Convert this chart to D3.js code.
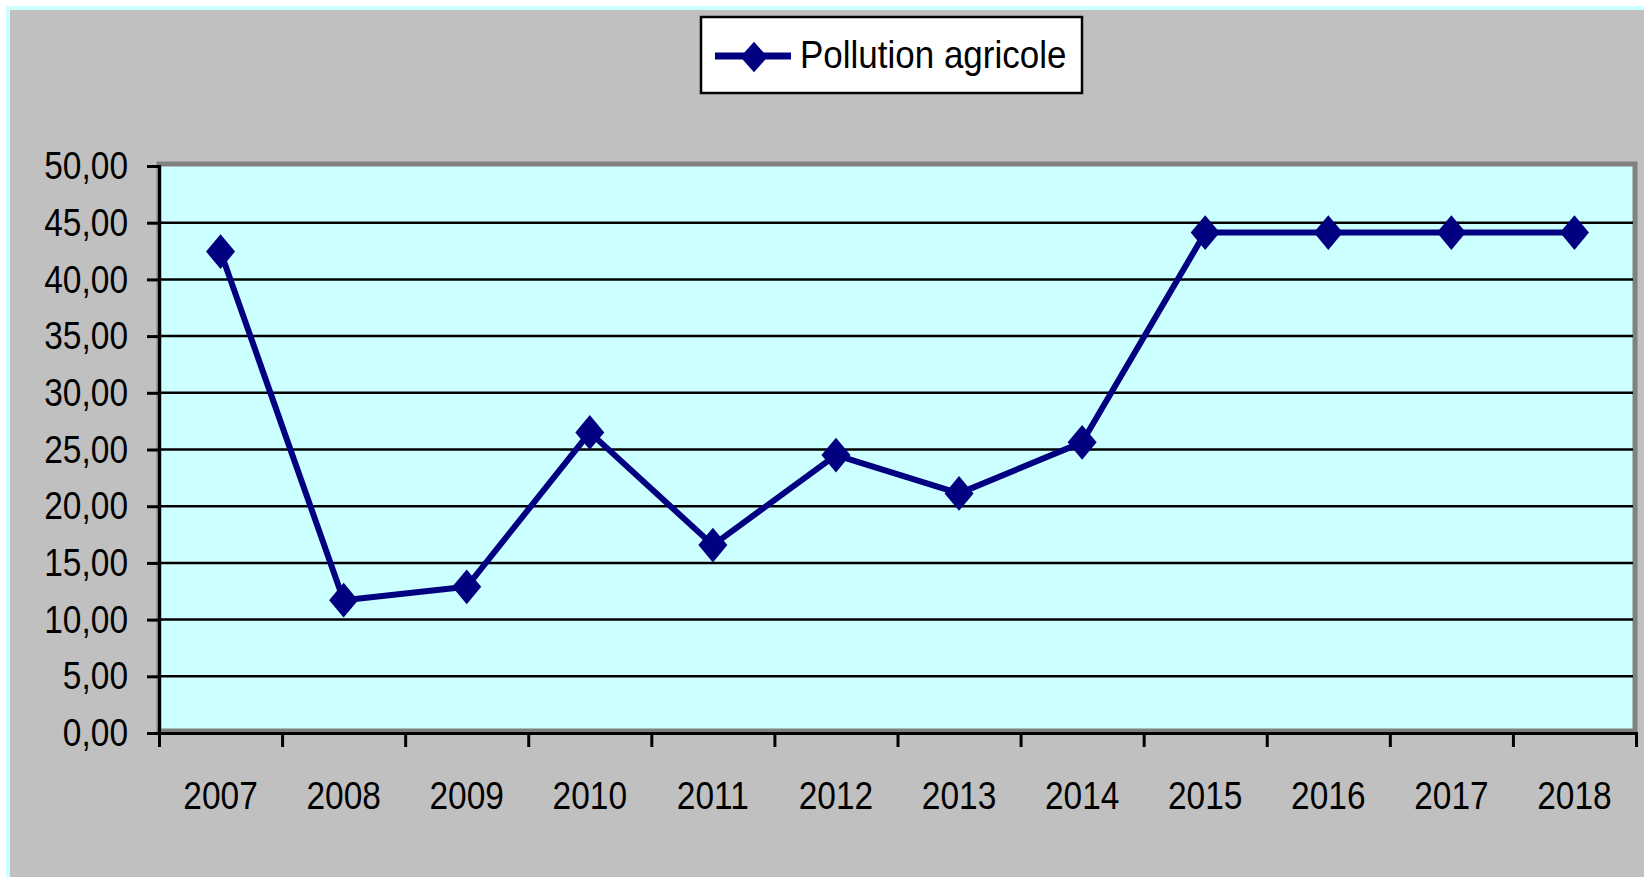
<!DOCTYPE html>
<html>
<head>
<meta charset="utf-8">
<script src="https://cdn.jsdelivr.net/npm/d3@7"></script>
<style>
  html, body { margin: 0; padding: 0; background: #fff; }
  svg { display: block; }
</style>
</head>
<body>
<svg id="chart" width="1644" height="877"></svg>
<script>
const years = ['2007', '2008', '2009', '2010', '2011', '2012', '2013', '2014', '2015', '2016', '2017', '2018'];
const pollutionAgricole = [42.45, 11.71, 12.89, 26.51, 16.57, 24.51, 21.13, 25.63, 44.13, 44.13, 44.13, 44.13];
const seriesName = 'Pollution agricole';
const yTicks = [0, 5, 10, 15, 20, 25, 30, 35, 40, 45, 50];

const W = 1644, H = 877;
const plot = { left: 159, top: 166, right: 1636, bottom: 733 };
const navy = '#000080';
const font = '"Liberation Sans", Arial, sans-serif';
const textStretch = 1.18;

const svg = d3.select('#chart');

// outer frame
svg.append('rect').attr('x', 6).attr('y', 6).attr('width', W).attr('height', H).attr('fill', '#ccffff');
svg.append('rect').attr('x', 10).attr('y', 10).attr('width', W).attr('height', H).attr('fill', '#c0c0c0');

const x = d3.scaleBand().domain(years).range([plot.left, plot.right]);
const xEdges = d3.scaleLinear().domain([0, years.length]).range([plot.left, plot.right]);
const y = d3.scaleLinear().domain([0, 50]).range([plot.bottom, plot.top]);

const frLocale = d3.formatLocale({ decimal: ',', thousands: ' ', grouping: [3], currency: ['', ' €'] });
const fmt = frLocale.format('.2f');

// plot area
svg.append('rect')
  .attr('x', plot.left)
  .attr('y', plot.top - 2)
  .attr('width', plot.right - plot.left - 1)
  .attr('height', plot.bottom - plot.top)
  .attr('fill', '#ccffff')
  .attr('stroke', '#808080')
  .attr('stroke-width', 5);

// gridlines
svg.append('g')
  .selectAll('line')
  .data(yTicks.filter(d => d > 0 && d < 50))
  .join('line')
  .attr('x1', plot.left)
  .attr('x2', plot.right - 3)
  .attr('y1', d => y(d))
  .attr('y2', d => y(d))
  .attr('stroke', '#000')
  .attr('stroke-width', 2.5);

// y axis
const yAxis = svg.append('g')
  .attr('transform', `translate(${plot.left},0)`)
  .call(d3.axisLeft(y).tickValues(yTicks).tickFormat(fmt).tickSize(12).tickPadding(19));
yAxis.select('.domain').attr('stroke', '#000').attr('stroke-width', 3);
yAxis.selectAll('.tick line').attr('stroke', '#000').attr('stroke-width', 3);
yAxis.selectAll('text')
  .attr('fill', '#000')
  .style('font-family', font)
  .style('font-size', '33.5px')
  .attr('transform', `scale(1,${textStretch})`);

// x axis: tick marks between categories
const xTicks = svg.append('g')
  .attr('transform', `translate(0,${plot.bottom})`)
  .call(d3.axisBottom(xEdges).ticks(years.length).tickFormat('').tickSize(14));
xTicks.select('.domain').attr('stroke', '#000').attr('stroke-width', 3);
xTicks.selectAll('.tick line').attr('stroke', '#000').attr('stroke-width', 3);

// x axis: labels centered on categories
const xLabels = svg.append('g')
  .attr('transform', `translate(0,${plot.bottom})`)
  .call(d3.axisBottom(x).tickSize(0));
xLabels.select('.domain').remove();
xLabels.selectAll('text')
  .attr('fill', '#000')
  .attr('y', 76 / textStretch)
  .attr('dy', 0)
  .style('font-family', font)
  .style('font-size', '33.5px')
  .attr('transform', `scale(1,${textStretch})`);

// series line
const pts = years.map((yr, i) => ({ year: yr, value: pollutionAgricole[i] }));
const line = d3.line()
  .x(d => x(d.year) + x.bandwidth() / 2)
  .y(d => y(d.value));
svg.append('path')
  .datum(pts)
  .attr('d', line)
  .attr('fill', 'none')
  .attr('stroke', navy)
  .attr('stroke-width', 6)
  .attr('stroke-linejoin', 'round');

// diamond markers
const diamond = d3.symbol().type(d3.symbolSquare).size(420);
svg.append('g')
  .selectAll('path')
  .data(pts)
  .join('path')
  .attr('d', diamond)
  .attr('fill', navy)
  .attr('transform', d => `translate(${x(d.year) + x.bandwidth() / 2},${y(d.value)}) scale(1,1.2) rotate(45)`);

// legend
const legend = svg.append('g');
legend.append('rect')
  .attr('x', 701)
  .attr('y', 17)
  .attr('width', 381)
  .attr('height', 76)
  .attr('fill', '#fff')
  .attr('stroke', '#000')
  .attr('stroke-width', 2.5);
legend.append('line')
  .attr('x1', 715)
  .attr('x2', 791)
  .attr('y1', 56)
  .attr('y2', 56)
  .attr('stroke', navy)
  .attr('stroke-width', 7);
legend.append('path')
  .attr('d', d3.symbol().type(d3.symbolSquare).size(370))
  .attr('fill', navy)
  .attr('transform', 'translate(754,57) scale(1,1.12) rotate(45)');
legend.append('text')
  .attr('x', 800)
  .attr('y', 68 / 1.12)
  .attr('transform', 'scale(1,1.12)')
  .attr('fill', '#000')
  .style('font-family', font)
  .style('font-size', '35px')
  .text(seriesName);
</script>
</body>
</html>
